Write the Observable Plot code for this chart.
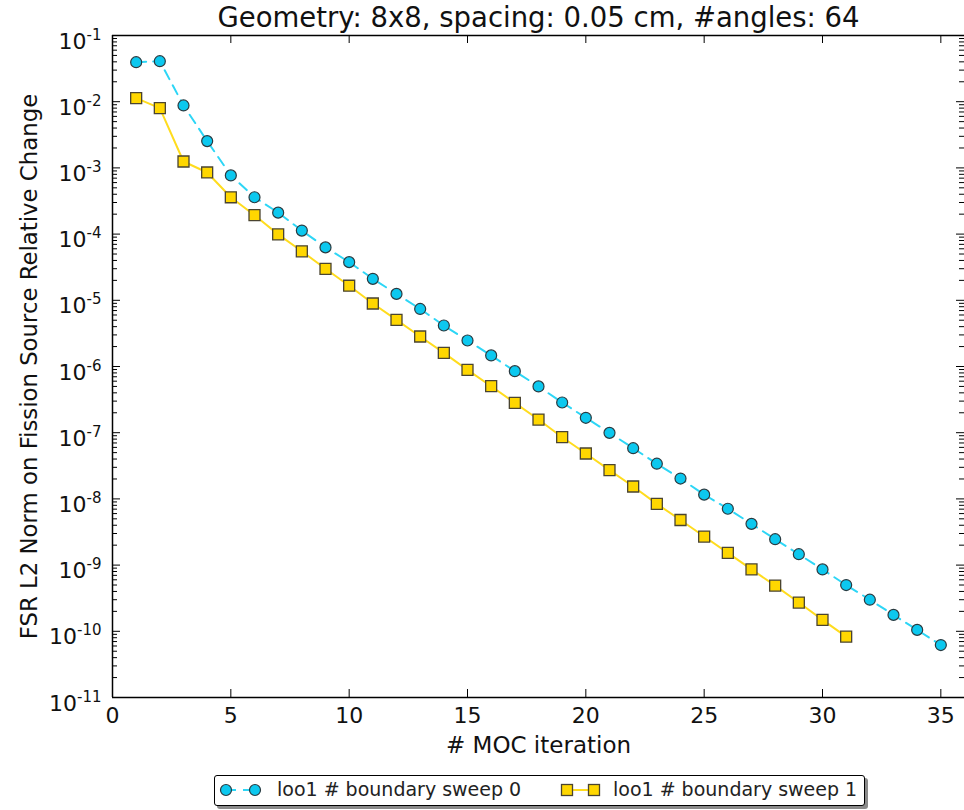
<!DOCTYPE html>
<html><head><meta charset="utf-8">
<script src="https://cdn.jsdelivr.net/npm/d3@7"></script>
<script src="https://cdn.jsdelivr.net/npm/@observablehq/plot@0.6"></script>
<style>
body{margin:0;background:#fff;font-family:"DejaVu Sans",sans-serif;}
#wrap{position:relative;width:964px;height:810px;overflow:hidden;background:#fff;}
#legend{position:absolute;left:214px;top:775px;width:651px;height:31px;box-sizing:border-box;border:1.5px solid #000;border-radius:3px;background:#fff;box-shadow:3px 3px 0 #8a8a8a;font-family:"DejaVu Sans";font-size:19px;color:#222;}
#legend .t{position:absolute;top:2px;white-space:nowrap;}
#legend svg{position:absolute;left:0;top:0;}
</style></head><body><div id="wrap"></div>
<script>
const titleText = "Geometry: 8x8, spacing: 0.05 cm, #angles: 64";
const xLabel = "# MOC iteration";
const yLabel = "FSR L2 Norm on Fission Source Relative Change";
const seriesNames = ["loo1 # boundary sweep 0", "loo1 # boundary sweep 1"];

const iterations0 = [1,2,3,4,5,6,7,8,9,10,11,12,13,14,15,16,17,18,19,20,21,22,23,24,25,26,27,28,29,30,31,32,33,34,35];
const sweep0 = [0.0395,0.0409,0.00877,0.00254,7.7e-4,3.6e-4,2.11e-4,1.13e-4,6.3e-5,3.77e-5,2.11e-5,1.25e-5,7.4e-6,4.16e-6,2.47e-6,1.47e-6,8.5e-7,5.0e-7,2.86e-7,1.68e-7,9.95e-8,5.83e-8,3.4e-8,2.03e-8,1.16e-8,7.1e-9,4.2e-9,2.46e-9,1.46e-9,8.6e-10,5.0e-10,3.0e-10,1.77e-10,1.05e-10,6.2e-11];

const iterations1 = [1,2,3,4,5,6,7,8,9,10,11,12,13,14,15,16,17,18,19,20,21,22,23,24,25,26,27,28,29,30,31];
const sweep1 = [0.0113,0.00798,1.25e-3,8.53e-4,3.6e-4,1.93e-4,9.9e-5,5.5e-5,2.99e-5,1.66e-5,8.95e-6,5.07e-6,2.84e-6,1.61e-6,8.9e-7,5.04e-7,2.82e-7,1.58e-7,8.55e-8,4.85e-8,2.72e-8,1.54e-8,8.4e-9,4.8e-9,2.7e-9,1.53e-9,8.6e-10,4.9e-10,2.72e-10,1.49e-10,8.3e-11];

const xDomain = [0, 36];
const xTicks = [0,5,10,15,20,25,30,35];
const yMajor = [1e-11,1e-10,1e-9,1e-8,1e-7,1e-6,1e-5,1e-4,1e-3,1e-2,1e-1];
const minorMultipliers = [2,3,4,5,6,7,8,9];
const yMinor = yMajor.slice(0,-1).flatMap(p => minorMultipliers.map(m => m * p));

const colors = {c0fill:"#0cc8ef", c0line:"#2dd6f6", c1fill:"#ffd700", c1line:"#ffdc1e"};

const data0 = iterations0.map((x,i)=>({x, y: sweep0[i]}));
const data1 = iterations1.map((x,i)=>({x, y: sweep1[i]}));

const W = 964, H = 760, mL = 112, mR = 0, mT = 35, mB = 63;
const pw = W - mL - mR, ph = H - mT - mB;
const major = 8, minor = 5;

const plot = Plot.plot({
  width: W, height: H,
  marginLeft: mL, marginRight: mR, marginTop: mT, marginBottom: mB,
  style: {fontFamily: "DejaVu Sans", fontSize: "22px", background: "white", color: "#111", overflow: "visible"},
  x: {domain: xDomain},
  y: {type: "log", domain: [yMajor[0], yMajor[yMajor.length-1]]},
  marks: [
    Plot.line(data1, {x: "x", y: "y", stroke: colors.c1line, strokeWidth: 2}),
    Plot.line(data0, {x: "x", y: "y", stroke: colors.c0line, strokeWidth: 2, strokeDasharray: "10,7"}),
    Plot.dot(data0, {x: "x", y: "y", r: 5.5, fill: colors.c0fill, stroke: "#2a3a40", strokeWidth: 1.2}),
    Plot.dot(data1, {x: "x", y: "y", symbol: "square", r: 6.2, fill: colors.c1fill, stroke: "#4a4430", strokeWidth: 1.3}),
    // inward ticks
    Plot.tickX(xTicks, {x: d => d, insetTop: ph - major, stroke: "black", strokeWidth: 1}),
    Plot.tickX(xTicks, {x: d => d, insetBottom: ph - major, stroke: "black", strokeWidth: 1}),
    Plot.tickY(yMajor, {y: d => d, insetRight: pw - major, stroke: "black", strokeWidth: 1}),
    Plot.tickY(yMajor, {y: d => d, insetLeft: pw - major, stroke: "black", strokeWidth: 1}),
    Plot.tickY(yMinor, {y: d => d, insetRight: pw - minor, stroke: "black", strokeWidth: 1}),
    Plot.tickY(yMinor, {y: d => d, insetLeft: pw - minor, stroke: "black", strokeWidth: 1}),
    // spines
    Plot.ruleX([xDomain[0]], {stroke: "black", strokeWidth: 1.5}),
    Plot.ruleY([yMajor[0]], {stroke: "black", strokeWidth: 1.5}),
    Plot.ruleY([yMajor[yMajor.length-1]], {stroke: "black", strokeWidth: 1.5}),
    // axes labels
    Plot.axisX({ticks: xTicks, tickSize: 0, tickPadding: 10, tickFormat: d => String(d), fontSize: 22, label: null}),
    Plot.axisY({ticks: yMajor, tickSize: 0, tickPadding: 11, dy: 6, tickFormat: d => "10^" + Math.round(Math.log10(d)), fontSize: 22, label: null}),
    Plot.text([titleText], {frameAnchor: "top", lineAnchor: "middle", dy: -17, fontSize: 27.5, fill: "#111"}),
    Plot.text([xLabel], {frameAnchor: "bottom", lineAnchor: "middle", dy: 48, fontSize: 23, fill: "#111"}),
    Plot.text([yLabel], {frameAnchor: "left", textAnchor: "middle", lineAnchor: "middle", dx: -83, rotate: -90, fontSize: 22.8, fill: "#111"})
  ]
});

// superscript exponent formatting for y tick labels
plot.querySelectorAll('g[aria-label="y-axis tick label"] text').forEach(t => {
  const s = t.textContent;
  const parts = s.split("^");
  if (parts.length !== 2) return;
  while (t.firstChild) t.removeChild(t.firstChild);
  const ns = "http://www.w3.org/2000/svg";
  const a = document.createElementNS(ns, "tspan");
  a.textContent = parts[0];
  const b = document.createElementNS(ns, "tspan");
  b.setAttribute("dy", "-9");
  b.setAttribute("font-size", "15");
  b.textContent = parts[1];
  t.appendChild(a); t.appendChild(b);
});

const wrap = document.getElementById("wrap");
wrap.appendChild(plot);

// legend
const lg = document.createElement("div");
lg.id = "legend";
lg.innerHTML = `
<svg width="648" height="28">
  <line x1="11" x2="40" y1="14" y2="14" stroke="${colors.c0line}" stroke-width="2" stroke-dasharray="10,7"/>
  <circle cx="11" cy="14" r="5.5" fill="${colors.c0fill}" stroke="#2a3a40" stroke-width="1.2"/>
  <circle cx="40" cy="14" r="5.5" fill="${colors.c0fill}" stroke="#2a3a40" stroke-width="1.2"/>
  <line x1="352" x2="379" y1="14" y2="14" stroke="${colors.c1line}" stroke-width="2"/>
  <rect x="346.5" y="8.5" width="11" height="11" fill="${colors.c1fill}" stroke="#4a4430" stroke-width="1.3"/>
  <rect x="373.5" y="8.5" width="11" height="11" fill="${colors.c1fill}" stroke="#4a4430" stroke-width="1.3"/>
</svg>
<span class="t" style="left:62px">${seriesNames[0]}</span>
<span class="t" style="left:398px">${seriesNames[1]}</span>`;
wrap.appendChild(lg);
</script>
</body></html>
